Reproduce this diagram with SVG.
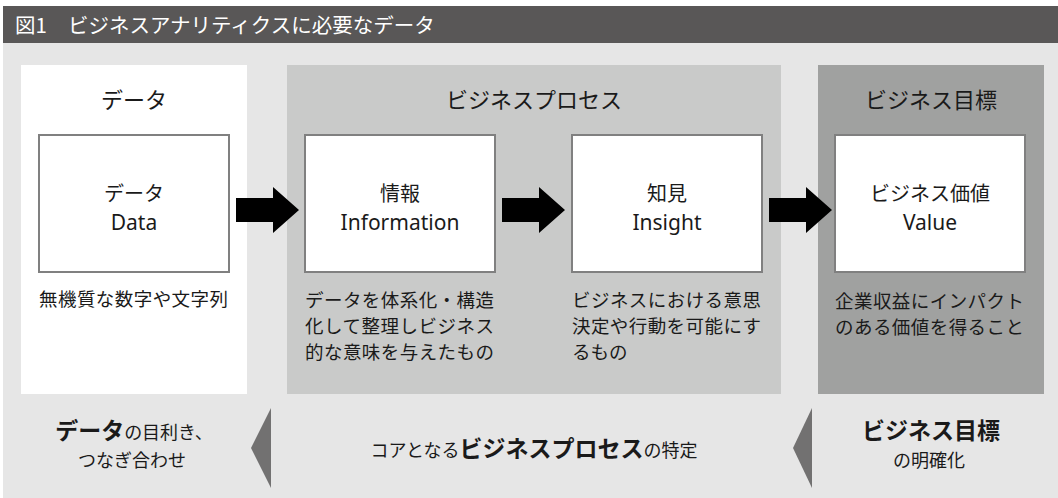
<svg xmlns="http://www.w3.org/2000/svg" width="1058" height="498" viewBox="0 0 1058 498">
<style>
text{font-family:"Noto Sans CJK JP","Noto Sans",sans-serif;fill:#1a1a1a;font-weight:400}
.title{fill:#ffffff;font-size:20.5px}
.head{font-size:22px;text-anchor:middle}
.lbl{font-size:20px;text-anchor:middle}
.en{font-family:"Noto Sans","Noto Sans CJK JP",sans-serif;font-size:21px;text-anchor:middle}
.desc{font-size:18.5px}
.box{fill:#ffffff;stroke:#808080;stroke-width:2}
.arrow{fill:#000000}
.tri{fill:#727171}
.b{font-weight:700;font-size:23px}
.s{font-size:18px}
.mid{text-anchor:middle}
</style>
<rect x="0" y="0" width="1058" height="498" fill="#ffffff"/>
<rect x="3" y="43" width="1055" height="455" fill="#e6e6e6"/>
<g id="title">
<rect x="3" y="6" width="1055" height="37" fill="#595757"/>
<text class="title" x="15" y="33">図1</text>
<text class="title" x="68" y="33">ビジネスアナリティクスに必要なデータ</text>
</g>
<g id="col-data">
<rect x="21" y="65" width="226" height="329" fill="#ffffff"/>
<text class="head" x="134" y="108">データ</text>
</g>
<g id="col-process">
<rect x="287" y="65" width="494" height="329" fill="#c9cac9"/>
<text class="head" x="534" y="108">ビジネスプロセス</text>
</g>
<g id="col-goal">
<rect x="818" y="65" width="226" height="329" fill="#a0a1a0"/>
<text class="head" x="931" y="108">ビジネス目標</text>
</g>
<g id="node-data">
<rect class="box" x="39" y="135" width="190" height="137"/>
<text class="lbl" x="134" y="201">データ</text>
<text class="en" x="134" y="230">Data</text>
<text class="desc" x="39" y="306" textLength="189" lengthAdjust="spacing">無機質な数字や文字列</text>
</g>
<g id="node-info">
<rect class="box" x="305" y="135" width="190" height="137"/>
<text class="lbl" x="400" y="201">情報</text>
<text class="en" x="400" y="230">Information</text>
<text class="desc" x="305" y="307" textLength="189" lengthAdjust="spacing">データを体系化・構造</text>
<text class="desc" x="305" y="333" textLength="189" lengthAdjust="spacing">化して整理しビジネス</text>
<text class="desc" x="305" y="359" textLength="189" lengthAdjust="spacing">的な意味を与えたもの</text>
</g>
<g id="node-insight">
<rect class="box" x="572" y="135" width="190" height="137"/>
<text class="lbl" x="667" y="201">知見</text>
<text class="en" x="667" y="230">Insight</text>
<text class="desc" x="572" y="307" textLength="189" lengthAdjust="spacing">ビジネスにおける意思</text>
<text class="desc" x="572" y="333" textLength="189" lengthAdjust="spacing">決定や行動を可能にす</text>
<text class="desc" x="572" y="359">るもの</text>
</g>
<g id="node-value">
<rect class="box" x="835" y="135" width="190" height="137"/>
<text class="lbl" x="930" y="201">ビジネス価値</text>
<text class="en" x="930" y="230">Value</text>
<text class="desc" x="835" y="308" textLength="189" lengthAdjust="spacing">企業収益にインパクト</text>
<text class="desc" x="835" y="334" textLength="189" lengthAdjust="spacing">のある価値を得ること</text>
</g>
<g id="connectors">
<polygon class="arrow" points="236,198 273,198 273,187 299,210 273,233 273,222 236,222"/>
<polygon class="arrow" points="502,198 539,198 539,187 565,210 539,233 539,222 502,222"/>
<polygon class="arrow" points="769,198 806,198 806,187 832,210 806,233 806,222 769,222"/>
<polygon class="tri" points="271,408 251,448 271,488"/>
<polygon class="tri" points="812,408 793,448 812,488"/>
</g>
<g id="bottom-data">
<text class="mid" x="134" y="439"><tspan class="b">データ</tspan><tspan class="s">の目利き、</tspan></text>
<text class="mid s" x="132" y="467">つなぎ合わせ</text>
</g>
<g id="bottom-process">
<text class="mid" x="534" y="457"><tspan class="s">コアとなる</tspan><tspan class="b">ビジネスプロセス</tspan><tspan class="s">の特定</tspan></text>
</g>
<g id="bottom-goal">
<text class="mid b" x="931" y="439" font-size="22">ビジネス目標</text>
<text class="mid s" x="929" y="467">の明確化</text>
</g>
</svg>
